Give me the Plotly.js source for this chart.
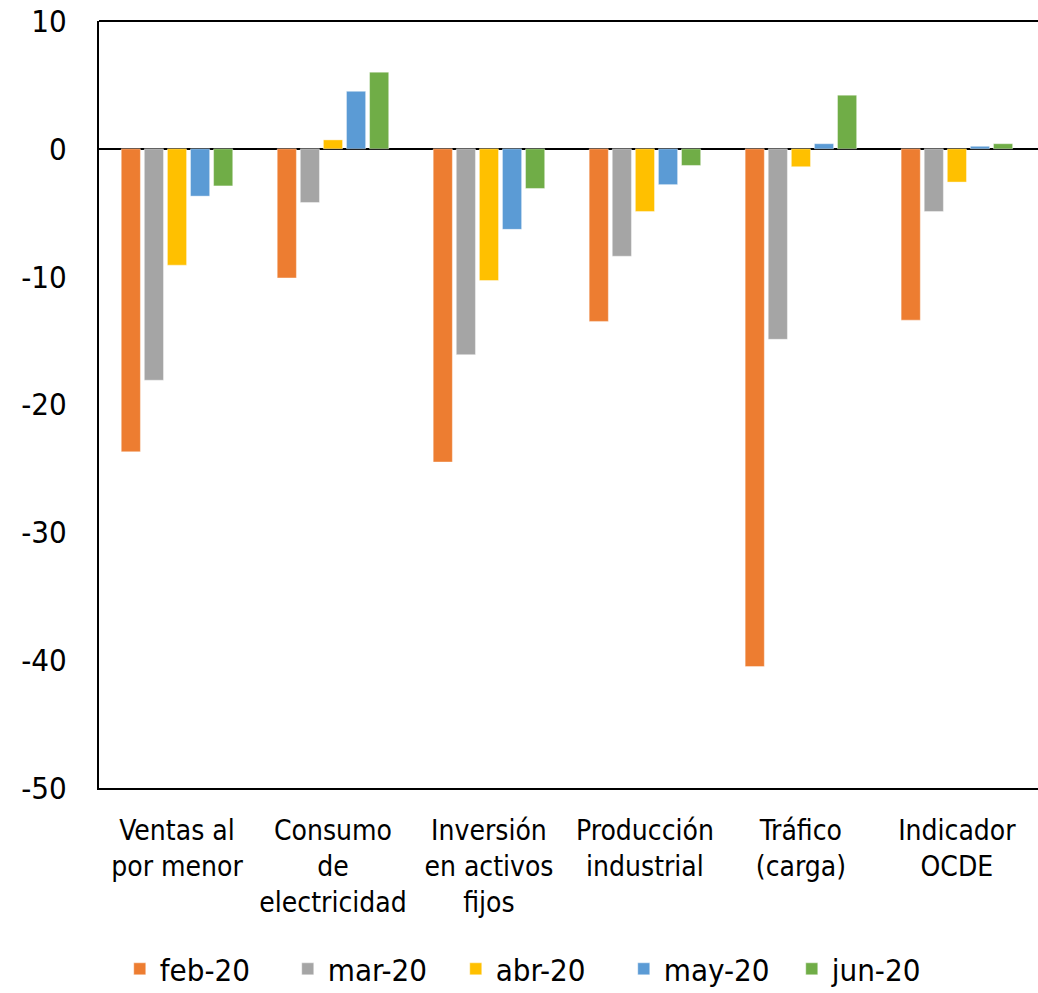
<!DOCTYPE html>
<html>
<head>
<meta charset="utf-8">
<script src="https://cdn.plot.ly/plotly-3.0.1.min.js"></script>
<style>html,body{margin:0;padding:0;background:#fff;}#chart{width:1038px;height:993px;}</style>
</head>
<body>
<div id="chart"></div>
<script>
const categories = ["Ventas al<br>por menor", "Consumo<br>de<br>electricidad", "Inversión<br>en activos<br>fijos", "Producción<br>industrial", "Tráfico<br>(carga)", "Indicador<br>OCDE"];
const seriesNames = ["feb-20", "mar-20", "abr-20", "may-20", "jun-20"];
const feb20 = [-23.7, -10.1, -24.5, -13.5, -40.5, -13.4];
const mar20 = [-18.1, -4.2, -16.1, -8.4, -14.9, -4.9];
const abr20 = [-9.1, 0.7, -10.3, -4.9, -1.4, -2.6];
const may20 = [-3.7, 4.5, -6.3, -2.8, 0.4, 0.2];
const jun20 = [-2.9, 6.0, -3.1, -1.3, 4.2, 0.4];
const colors = ["#ED7D31", "#A5A5A5", "#FFC000", "#5B9BD5", "#70AD47"];
const yTicks = [10, 0, -10, -20, -30, -40, -50];

const FONT = "'DejaVu Sans Condensed', 'Liberation Sans Narrow', 'DejaVu Sans', sans-serif";
const allSeries = [feb20, mar20, abr20, may20, jun20];
const traces = allSeries.map((vals, i) => ({
  type: "bar",
  name: seriesNames[i],
  x: categories,
  y: vals,
  marker: {color: colors[i], line: {color: "rgba(255,255,255,0.5)", width: 0.8}},
  hoverinfo: "skip"
}));

const layout = {
  width: 1038,
  height: 993,
  paper_bgcolor: "#fff",
  plot_bgcolor: "#fff",
  margin: {l: 99, r: 0, t: 21, b: 205, pad: 0},
  barmode: "group",
  bargap: 0.26,
  bargroupgap: 0.17,
  font: {family: FONT, color: "#000", size: 28},
  xaxis: {
    type: "category",
    range: [-0.5, 5.52],
    showline: true, linecolor: "#000", linewidth: 2,
    mirror: false,
    ticks: "", showgrid: false, zeroline: false,
    tickfont: {family: FONT, size: 28, color: "#000"},
    ticklabelstandoff: 16,
    fixedrange: true
  },
  yaxis: {
    range: [-50, 10],
    tickvals: yTicks,
    ticktext: yTicks.map(String),
    showline: true, linecolor: "#000", linewidth: 2,
    ticks: "", showgrid: false,
    zeroline: true, zerolinecolor: "#000", zerolinewidth: 2.5,
    tickfont: {family: FONT, size: 31, color: "#000"},
    ticklabelstandoff: 24,
    fixedrange: true
  },
  shapes: [{type: "line", xref: "paper", yref: "paper", x0: 0, x1: 1, y0: 1, y1: 1, line: {color: "#000", width: 2}}],
  showlegend: true,
  legend: {
    orientation: "h",
    xref: "container", yref: "container",
    x: 0.52, xanchor: "center",
    y: 0.024, yanchor: "middle",
    font: {family: FONT, size: 31, color: "#000"},
    itemwidth: 30,
    entrywidth: 123,
    entrywidthmode: "pixels",
    traceorder: "normal"
  }
};

Plotly.newPlot("chart", traces, layout, {displayModeBar: false, staticPlot: true});
</script>
</body>
</html>
